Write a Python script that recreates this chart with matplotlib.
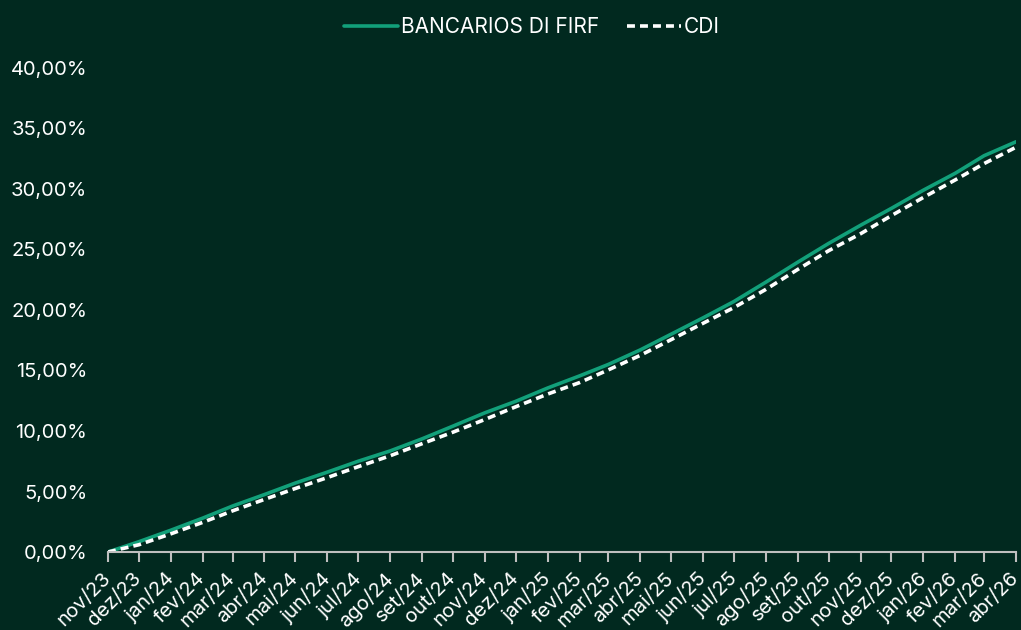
import pandas as pd
import matplotlib
matplotlib.use("Agg")
import matplotlib.pyplot as plt
from matplotlib.ticker import FuncFormatter


# month starts, nov/23 .. abr/26
month_labels = ["nov/23", "dez/23", "jan/24", "fev/24", "mar/24", "abr/24",
                "mai/24", "jun/24", "jul/24", "ago/24", "set/24", "out/24",
                "nov/24", "dez/24", "jan/25", "fev/25", "mar/25", "abr/25",
                "mai/25", "jun/25", "jul/25", "ago/25", "set/25", "out/25",
                "nov/25", "dez/25", "jan/26", "fev/26", "mar/26", "abr/26"]

# accumulated return (%) read at each month start
firf = [0.0, 0.85, 1.8, 2.8, 3.8, 4.75, 5.7, 6.6, 7.5, 8.35, 9.35, 10.4,
        11.5, 12.45, 13.55, 14.55, 15.5, 16.7, 18.0, 19.35, 20.7, 22.3,
        23.95, 25.5, 27.0, 28.4, 29.9, 31.3, 32.75, 33.9]
cdi = [0.0, 0.6, 1.5, 2.45, 3.4, 4.35, 5.25, 6.15, 7.05, 7.95, 8.95, 9.9,
       10.95, 12.0, 13.05, 14.0, 15.05, 16.25, 17.55, 18.9, 20.2, 21.7,
       23.35, 24.9, 26.3, 27.8, 29.3, 30.75, 32.1, 33.45]

BG = "#01291F"
GREEN = "#12A07A"
FONT = ["Inter", "DejaVu Sans"]


def plot_chart():
    dates = pd.date_range("2023-11-01", periods=len(month_labels), freq="MS")

    plt.rcParams["font.family"] = FONT
    fig = plt.figure(figsize=(10.21, 6.30), dpi=100, facecolor=BG)
    ax = fig.add_axes([0.1058, 0.1238, 0.8893, 0.7683], facecolor=BG)

    ax.plot(dates, firf, color=GREEN, lw=2.6, label="BANCARIOS DI FIRF",
            solid_capstyle="round")
    ax.plot(dates, cdi, color="white", lw=2.6, dashes=(2.2, 1.4),
            label="CDI")

    ax.set_xlim(dates[0], dates[-1])
    ax.set_ylim(0, 40)

    ax.set_xticks(dates)
    ax.set_xticklabels(month_labels, rotation=45, ha="right", va="center",
                       rotation_mode="anchor", color="white", fontsize=14.5)
    ax.set_yticks(range(0, 41, 5))
    ax.yaxis.set_major_formatter(
        FuncFormatter(lambda v, _: f"{v:.2f}".replace(".", ",") + "%"))
    ax.tick_params(axis="y", length=0, pad=15, labelsize=14.5,
                   labelcolor="white")
    ax.tick_params(axis="x", length=7, width=1.5, color="#BFBFBF", pad=10)

    for s in ["top", "right", "left"]:
        ax.spines[s].set_visible(False)
    ax.spines["bottom"].set_color("#BFBFBF")
    ax.spines["bottom"].set_linewidth(1.5)

    leg = fig.legend(loc="center", bbox_to_anchor=(0.521, 0.957), ncol=2,
                     frameon=False, fontsize=15, handlelength=2.6,
                     columnspacing=1.3, handletextpad=0.15)
    for t in leg.get_texts():
        t.set_color("white")

    fig.savefig("out.png", dpi=100, facecolor=BG)


if __name__ == "__main__":
    plot_chart()
